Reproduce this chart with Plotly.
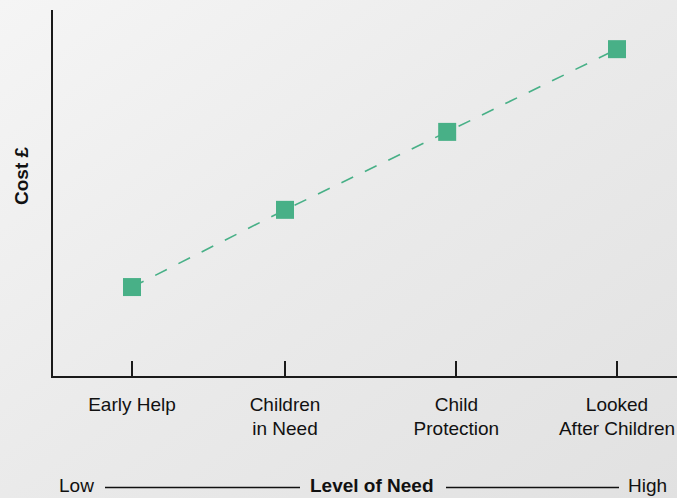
import base64
import plotly.graph_objects as go

# ---- data ----
categories = ["Early Help", "Children<br>in Need", "Child<br>Protection", "Looked<br>After Children"]
tick_positions = [1.0, 2.0, 3.12, 4.17]      # level-of-need positions of category ticks
need_level = [1.0, 2.0, 3.06, 4.17]          # level-of-need of each point
cost = [24.3, 45.4, 66.7, 89.3]              # relative cost

FONT = "Liberation Sans, Arial, Helvetica, sans-serif"
TXT = "#111111"
GREEN = "#48b087"

W, H = 677, 498
ML, MR, MT, MB = 53, 0, 10, 122
pw, ph = W - ML - MR, H - MT - MB

svg = f'''<svg xmlns="http://www.w3.org/2000/svg" width="{W}" height="{H}">
<defs><linearGradient id="g" x1="0" y1="0" x2="1" y2="1">
<stop offset="0" stop-color="#f5f5f5"/><stop offset="0.5" stop-color="#eaeaea"/><stop offset="1" stop-color="#e1e1e1"/>
</linearGradient></defs><rect width="{W}" height="{H}" fill="url(#g)"/></svg>'''
src = "data:image/svg+xml;base64," + base64.b64encode(svg.encode()).decode()

fig = go.Figure()
fig.add_trace(go.Scatter(
    x=need_level, y=cost, mode="lines+markers",
    line=dict(color=GREEN, width=1.6, dash="13px,13px"),
    marker=dict(symbol="square", size=18, color=GREEN),
    showlegend=False, hoverinfo="skip",
))

fig.update_layout(
    width=W, height=H,
    margin=dict(l=ML, r=MR, t=MT, b=MB),
    paper_bgcolor="#eaeaea", plot_bgcolor="rgba(0,0,0,0)",
    font=dict(family=FONT, size=19, color=TXT),
    images=[dict(source=src, xref="paper", yref="paper",
                 x=-ML / pw, y=1 + MT / ph, sizex=W / pw, sizey=H / ph,
                 xanchor="left", yanchor="top", sizing="stretch", layer="below")],
    xaxis=dict(
        range=[1 - 79 / 153, 1 + 545 / 153], showgrid=False, zeroline=False,
        showline=True, linecolor="#1a1a1a", linewidth=1.5,
        tickmode="array", tickvals=tick_positions, ticktext=categories,
        ticks="inside", ticklen=15, tickwidth=1.5, tickcolor="#1a1a1a",
        ticklabelstandoff=10,
        tickfont=dict(family=FONT, size=19, color=TXT),
    ),
    yaxis=dict(
        range=[0, 100], showgrid=False, zeroline=False,
        showline=True, linecolor="#1a1a1a", linewidth=1.5,
        showticklabels=False, ticks="",
    ),
)

def px(xp):
    return (xp - ML) / pw

def py(yp):
    return 1 - (yp - MT) / ph

# y-axis title
fig.add_annotation(x=px(21.5), y=py(175.5), xref="paper", yref="paper", text="<b>Cost £</b>",
                   textangle=-90, showarrow=False, xanchor="center", yanchor="middle",
                   font=dict(family=FONT, size=19, color=TXT))

# bottom "Low —— Level of Need —— High" scale
for xp, label in [(76, "Low"), (372, "<b>Level of Need</b>"), (647.5, "High")]:
    fig.add_annotation(x=px(xp), y=py(486), xref="paper", yref="paper", text=label,
                       showarrow=False, xanchor="center", yanchor="middle",
                       font=dict(family=FONT, size=19, color=TXT))
for a, b in [(105, 300), (446, 619)]:
    fig.add_shape(type="line", xref="paper", yref="paper", x0=px(a), x1=px(b), y0=py(487.5), y1=py(487.5),
                  line=dict(color="#111111", width=1.3))

fig.write_html("out.html")
